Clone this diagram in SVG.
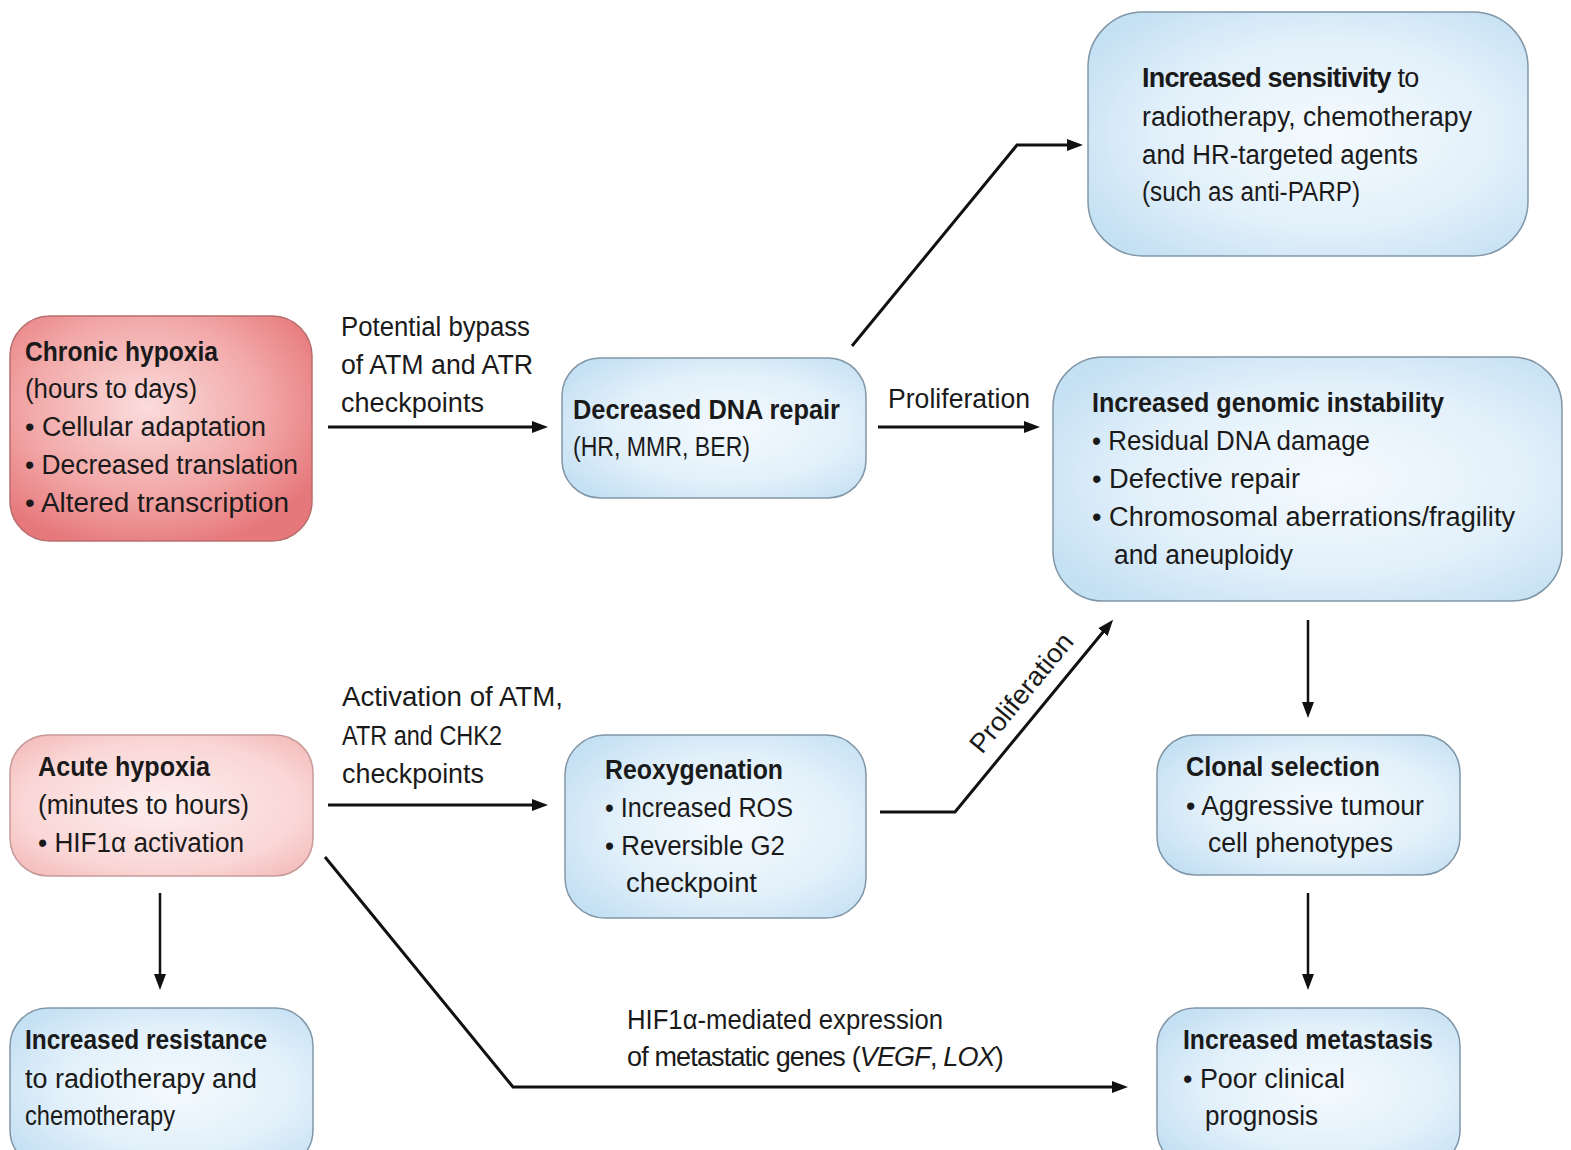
<svg xmlns="http://www.w3.org/2000/svg" width="1571" height="1150" viewBox="0 0 1571 1150">
<style>
text{font-family:"Liberation Sans",Arial,sans-serif;font-size:27px;fill:#1a1a1a}
.b{font-weight:bold}
.i{font-style:italic}
.blue{fill:url(#gBlue);stroke:#8196a6;stroke-width:1.5}
.red{fill:url(#gRed);stroke:#b86e6e;stroke-width:1.5}
.pink{fill:url(#gPink);stroke:#c99a9a;stroke-width:1.5}
.c{fill:none;stroke:#111;stroke-width:3;marker-end:url(#ah)}
.cv{fill:none;stroke:#111;stroke-width:2.5;marker-end:url(#ah)}
</style>
<defs>
<radialGradient id="gBlue" cx="0.55" cy="0.5" r="0.65">
<stop offset="0" stop-color="#f4fafe"/><stop offset="0.6" stop-color="#e2f0fa"/><stop offset="1" stop-color="#c4e0f3"/>
</radialGradient>
<radialGradient id="gRed" cx="0.45" cy="0.4" r="0.65">
<stop offset="0" stop-color="#fbdcdc"/><stop offset="0.6" stop-color="#f2a8a8"/><stop offset="1" stop-color="#e6787b"/>
</radialGradient>
<radialGradient id="gPink" cx="0.5" cy="0.5" r="0.65">
<stop offset="0" stop-color="#fdeeee"/><stop offset="0.7" stop-color="#fad6d6"/><stop offset="1" stop-color="#f4bcbc"/>
</radialGradient>
<marker id="ah" viewBox="0 0 16 12" refX="8" refY="6" markerWidth="16" markerHeight="12" markerUnits="userSpaceOnUse" orient="auto">
<path d="M0,0 L16,6 L0,12 Z" fill="#111"/>
</marker>
</defs>
<rect width="1571" height="1150" fill="#fff"/>

<g id="connectors">
<line class="c" x1="328" y1="427" x2="540" y2="427"/>
<line class="c" x1="878" y1="427" x2="1032" y2="427"/>
<polyline class="c" points="852,346 1017,145 1075,145"/>
<line class="c" x1="328" y1="805" x2="540" y2="805"/>
<polyline class="c" points="880,812 955,812 1108,626"/>
<polyline class="c" points="325,857 513,1087 1120,1087"/>
<line class="cv" x1="1308" y1="620" x2="1308" y2="710"/>
<line class="cv" x1="1308" y1="893" x2="1308" y2="982"/>
<line class="cv" x1="160" y1="893" x2="160" y2="982"/>
<g id="labels">
<text x="341" y="336" textLength="189" lengthAdjust="spacingAndGlyphs">Potential bypass</text>
<text x="341" y="374" textLength="192" lengthAdjust="spacingAndGlyphs">of ATM and ATR</text>
<text x="341" y="412" textLength="143" lengthAdjust="spacingAndGlyphs">checkpoints</text>
<text x="888" y="408" textLength="142" lengthAdjust="spacingAndGlyphs">Proliferation</text>
<text x="342" y="706" textLength="221" lengthAdjust="spacingAndGlyphs">Activation of ATM,</text>
<text x="342" y="745" textLength="160" lengthAdjust="spacingAndGlyphs">ATR and CHK2</text>
<text x="342" y="783" textLength="142" lengthAdjust="spacingAndGlyphs">checkpoints</text>
<text transform="translate(982,755) rotate(-50.5)" textLength="146" lengthAdjust="spacingAndGlyphs">Proliferation</text>
<text x="627" y="1029" textLength="316" lengthAdjust="spacingAndGlyphs">HIF1α-mediated expression</text>
<text x="627" y="1066" letter-spacing="-0.85">of metastatic genes (<tspan class="i">VEGF</tspan>, <tspan class="i">LOX</tspan>)</text>
</g>
</g>

<g id="chronic-hypoxia">
<rect class="red" x="10" y="316" width="302" height="225" rx="40"/>
<text class="b" x="25" y="361" textLength="193" lengthAdjust="spacingAndGlyphs">Chronic hypoxia</text>
<text x="25" y="398" textLength="172" lengthAdjust="spacingAndGlyphs">(hours to days)</text>
<text x="25" y="436" textLength="241" lengthAdjust="spacingAndGlyphs">• Cellular adaptation</text>
<text x="25" y="474" textLength="273" lengthAdjust="spacingAndGlyphs">• Decreased translation</text>
<text x="25" y="512" textLength="264" lengthAdjust="spacingAndGlyphs">• Altered transcription</text>
</g>

<g id="decreased-dna-repair">
<rect class="blue" x="562" y="358" width="304" height="140" rx="38"/>
<text class="b" x="573" y="419" textLength="267" lengthAdjust="spacingAndGlyphs">Decreased DNA repair</text>
<text x="573" y="456" textLength="177" lengthAdjust="spacingAndGlyphs">(HR, MMR, BER)</text>
</g>

<g id="increased-sensitivity">
<rect class="blue" x="1088" y="12" width="440" height="244" rx="55"/>
<text x="1142" y="87" letter-spacing="-0.8"><tspan class="b">Increased sensitivity</tspan> to</text>
<text x="1142" y="126" textLength="330" lengthAdjust="spacingAndGlyphs">radiotherapy, chemotherapy</text>
<text x="1142" y="164" textLength="276" lengthAdjust="spacingAndGlyphs">and HR-targeted agents</text>
<text x="1142" y="201" textLength="218" lengthAdjust="spacingAndGlyphs">(such as anti-PARP)</text>
</g>

<g id="genomic-instability">
<rect class="blue" x="1053" y="357" width="509" height="244" rx="50"/>
<text class="b" x="1092" y="412" textLength="352" lengthAdjust="spacingAndGlyphs">Increased genomic instability</text>
<text x="1092" y="450" textLength="278" lengthAdjust="spacingAndGlyphs">• Residual DNA damage</text>
<text x="1092" y="488" textLength="208" lengthAdjust="spacingAndGlyphs">• Defective repair</text>
<text x="1092" y="526" textLength="423" lengthAdjust="spacingAndGlyphs">• Chromosomal aberrations/fragility</text>
<text x="1114" y="564" textLength="179" lengthAdjust="spacingAndGlyphs">and aneuploidy</text>
</g>

<g id="acute-hypoxia">
<rect class="pink" x="10" y="735" width="303" height="141" rx="38"/>
<text class="b" x="38" y="776" textLength="172" lengthAdjust="spacingAndGlyphs">Acute hypoxia</text>
<text x="38" y="814" textLength="211" lengthAdjust="spacingAndGlyphs">(minutes to hours)</text>
<text x="38" y="852" textLength="206" lengthAdjust="spacingAndGlyphs">• HIF1α activation</text>
</g>

<g id="reoxygenation">
<rect class="blue" x="565" y="735" width="301" height="183" rx="40"/>
<text class="b" x="605" y="779" textLength="178" lengthAdjust="spacingAndGlyphs">Reoxygenation</text>
<text x="605" y="817" textLength="188" lengthAdjust="spacingAndGlyphs">• Increased ROS</text>
<text x="605" y="855" textLength="180" lengthAdjust="spacingAndGlyphs">• Reversible G2</text>
<text x="626" y="892" textLength="131" lengthAdjust="spacingAndGlyphs">checkpoint</text>
</g>

<g id="clonal-selection">
<rect class="blue" x="1157" y="735" width="303" height="140" rx="38"/>
<text class="b" x="1186" y="776" textLength="194" lengthAdjust="spacingAndGlyphs">Clonal selection</text>
<text x="1186" y="815" textLength="238" lengthAdjust="spacingAndGlyphs">• Aggressive tumour</text>
<text x="1208" y="852" textLength="185" lengthAdjust="spacingAndGlyphs">cell phenotypes</text>
</g>

<g id="increased-resistance">
<rect class="blue" x="10" y="1008" width="303" height="160" rx="38"/>
<text class="b" x="25" y="1049" textLength="242" lengthAdjust="spacingAndGlyphs">Increased resistance</text>
<text x="25" y="1088" textLength="232" lengthAdjust="spacingAndGlyphs">to radiotherapy and</text>
<text x="25" y="1125" textLength="150" lengthAdjust="spacingAndGlyphs">chemotherapy</text>
</g>

<g id="increased-metastasis">
<rect class="blue" x="1157" y="1008" width="303" height="160" rx="38"/>
<text class="b" x="1183" y="1049" textLength="250" lengthAdjust="spacingAndGlyphs">Increased metastasis</text>
<text x="1183" y="1088" textLength="162" lengthAdjust="spacingAndGlyphs">• Poor clinical</text>
<text x="1205" y="1125" textLength="113" lengthAdjust="spacingAndGlyphs">prognosis</text>
</g>
</svg>
